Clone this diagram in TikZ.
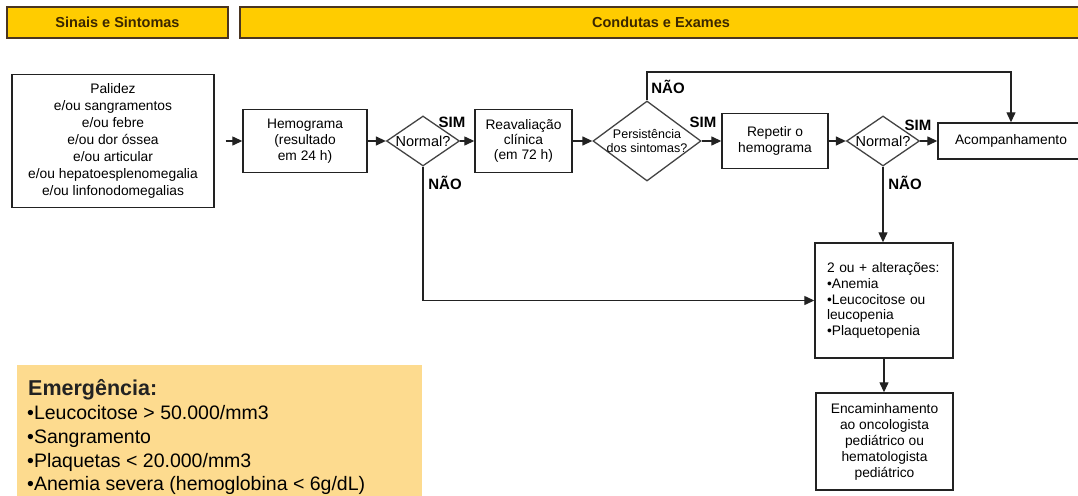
\documentclass[tikz,border=0pt]{standalone}
\usepackage{fontspec}
\setmainfont{Liberation Sans}
\usetikzlibrary{shapes.geometric,arrows.meta,calc}

\definecolor{hdrfill}{HTML}{FFCC00}
\definecolor{hdrline}{HTML}{4A3520}
\definecolor{hdrtext}{HTML}{3A2600}
\definecolor{emgfill}{HTML}{FDDB8F}
\definecolor{ink}{HTML}{222222}

\tikzset{
  hdr/.style={draw=hdrline, line width=1.5pt, fill=hdrfill, text=hdrtext,
    font=\fontsize{14.5}{16}\selectfont\bfseries, inner sep=0pt},
  stepbox/.style={draw=ink, line width=1.4pt, align=center, inner sep=0pt,
    font=\fontsize{13.8}{16}\selectfont},
  dia/.style={draw=ink!85, line width=1.3pt, shape=diamond, inner sep=0pt},
  dialbl/.style={inner sep=0pt, align=center},
  arr/.style={draw=ink, line width=1.3pt, -{Triangle[length=10pt,width=9pt]}},
  lbl/.style={font=\fontsize{15}{17}\selectfont\bfseries, inner sep=0pt},
  emg/.style={anchor=base west, inner sep=0pt, font=\fontsize{19.5}{22}\selectfont}
}

\begin{document}
\begin{tikzpicture}[x=1pt, y=-1pt]
\useasboundingbox (0,0) rectangle (1078,495);

% column headers
\node[hdr, minimum width=221, minimum height=31] (hA) at (117.5,22.5) {Sinais e Sintomas};
\node[hdr, minimum width=842, minimum height=31] (hB) at (661,22.5) {Condutas e Exames};

% flow boxes
\node[stepbox, minimum width=202, minimum height=133, font=\fontsize{13.8}{17}\selectfont] (pal) at (113,141)
  {Palidez\\e/ou sangramentos\\e/ou febre\\e/ou dor óssea\\e/ou articular\\e/ou hepatoesplenomegalia\\e/ou linfonodomegalias};
\node[stepbox, minimum width=124, minimum height=63] (hem) at (305,141)
  {Hemograma\\(resultado\\em 24 h)};
\node[dia, minimum width=73, minimum height=50,
  label={[dialbl, font=\fontsize{14.5}{16}\selectfont]center:Normal?}] (d1) at (423,141) {};
\node[stepbox, minimum width=97, minimum height=63, font=\fontsize{13.8}{15}\selectfont] (rea) at (523.5,141)
  {Reavaliação\\clínica\\(em 72 h)};
\node[dia, minimum width=108, minimum height=80,
  label={[dialbl, font=\fontsize{12.5}{13.5}\selectfont]center:Persistência\\dos sintomas?}] (d2) at (647,141) {};
\node[stepbox, minimum width=106, minimum height=55] (rep) at (775,141)
  {Repetir o\\hemograma};
\node[dia, minimum width=73, minimum height=50,
  label={[dialbl, font=\fontsize{14.5}{16}\selectfont]center:Normal?}] (d3) at (883,141) {};
\node[stepbox, minimum width=146, minimum height=36] (aco) at (1011,141)
  {Acompanhamento};
\node[stepbox, minimum width=138, minimum height=115, align=left, text width=114,
  font=\fontsize{13.8}{15.7}\selectfont] (alt) at (884,300.5)
  {2 ou + alterações:\\•Anemia\\•Leucocitose ou\\leucopenia\\•Plaquetopenia};
\node[stepbox, minimum width=137, minimum height=97] (enc) at (884.5,441.5)
  {Encaminhamento\\ao oncologista\\pediátrico ou\\hematologista\\pediátrico};

% connectors
\coordinate (top) at (0,72);
\draw[arr] ([xshift=11pt]pal.east) -- (hem.west);
\draw[arr] (hem.east) -- (d1.west);
\draw[arr] (d1.east) -- (rea.west);
\draw[arr] (d1.south) |- (alt.west);
\draw[arr] (rea.east) -- (d2.west);
\draw[arr] (d2.north) |- (aco.north |- top) -- (aco.north);
\draw[arr] (d2.east) -- (rep.west);
\draw[arr] (rep.east) -- (d3.west);
\draw[arr] (d3.east) -- (aco.west);
\draw[arr] (d3.south) -- (d3.south |- alt.north);
\draw[arr] (alt.south) -- (alt.south |- enc.north);

% branch labels
\node[lbl] (s1) at (452,122) {SIM};
\node[lbl] (n1) at (445,183) {NÃO};
\node[lbl] (n2) at (668,87) {NÃO};
\node[lbl] (s2) at (703,122) {SIM};
\node[lbl] (s3) at (918,125) {SIM};
\node[lbl] (n3) at (905,183) {NÃO};

% emergency panel
\fill[emgfill] (17,365) rectangle (422,500);
\node[emg, font=\fontsize{21.5}{24}\selectfont\bfseries, text=ink] (e0) at (28,395) {Emergência:};
\node[emg] (e1) at (27,419) {•Leucocitose > 50.000/mm3};
\node[emg] (e2) at (27,443) {•Sangramento};
\node[emg] (e3) at (27,467) {•Plaquetas < 20.000/mm3};
\node[emg] (e4) at (27,490) {•Anemia severa (hemoglobina < 6g/dL)};
\end{tikzpicture}
\end{document}
